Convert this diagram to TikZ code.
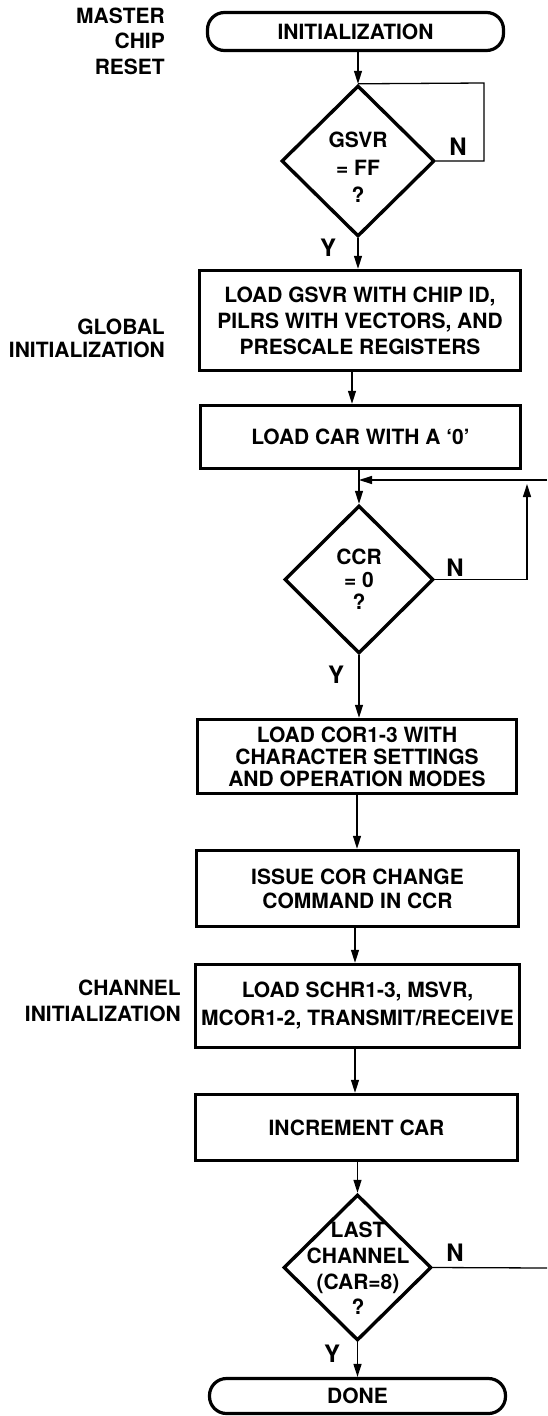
\documentclass[tikz,border=0pt]{standalone}
\usepackage{fontspec}
\setmainfont{TeX Gyre Heros}
\usetikzlibrary{arrows.meta,shapes.geometric}
\newcommand{\fsz}[1]{\fontsize{21}{#1}\selectfont\bfseries}
\begin{document}
\begin{tikzpicture}[x=1pt,y=-1pt,
  every node/.style={inner sep=0pt, text=black},
  box/.style={draw, line width=3.4pt, rectangle, align=center},
  term/.style={draw, line width=3.2pt, rounded corners=17pt, minimum width=296pt, align=center, font=\fsz{24}},
  dec/.style={draw, diamond, line width=3.4pt},
  dtxt/.style={align=center},
  lbl/.style={align=right, anchor=east},
  yn/.style={font=\fontsize{24}{24}\selectfont\bfseries},
  arr/.style={line width=1.3pt, -{Triangle[length=13pt,width=8pt]}},
  conn/.style={line width=1.3pt},
]
\useasboundingbox (0,0) rectangle (547,1416);

% main flow
\node[term, minimum height=38pt] (init) at (355.5,31.5) {INITIALIZATION};
\node[dec, minimum width=153pt, minimum height=151pt] (d1) at (358,161) {};
\node[dtxt, font=\fsz{27.5}] (t1) at (358,167.5) {GSVR\\= FF\\?};

\node[box, minimum width=321pt, minimum height=100pt, font=\fsz{26}] (b1) at (360,320.5)
  {LOAD GSVR WITH CHIP ID,\\PILRS WITH VECTORS, AND\\PRESCALE REGISTERS};
\node[box, minimum width=320pt, minimum height=63pt, font=\fsz{24}] (b2) at (360.5,437)
  {LOAD CAR WITH A `0'};

\node[dec, minimum width=149pt, minimum height=148pt] (d2) at (359,579.5) {};
\node[dtxt, font=\fsz{22.5}] (t2) at (359,579.5) {CCR\\= 0\\?};

\node[box, minimum width=319pt, minimum height=74pt, font=\fsz{22}] (b3) at (357,756.5)
  {LOAD COR1-3 WITH\\CHARACTER SETTINGS\\AND OPERATION MODES};
\node[box, minimum width=322pt, minimum height=76pt, font=\fsz{24}] (b4) at (357.5,888.5)
  {ISSUE COR CHANGE\\COMMAND IN CCR};
\node[box, minimum width=324pt, minimum height=83pt, font=\fsz{28}] (b5) at (357.5,1006)
  {LOAD SCHR1-3, MSVR,\\MCOR1-2, TRANSMIT/RECEIVE};
\node[box, minimum width=322pt, minimum height=66pt, font=\fsz{24}] (b6) at (356.5,1127.5)
  {INCREMENT CAR};

\node[dec, minimum width=148pt, minimum height=146pt] (d3) at (357.5,1267.5) {};
\node[dtxt, font=\fsz{25.7}] (t3) at (358,1268.5) {LAST\\CHANNEL\\(CAR=8)\\?};

\node[term, minimum height=35pt] (done) at (357.5,1396) {DONE};

% side labels
\node[lbl, font=\fsz{25.5}] (lm) at (165,41.2) {MASTER\\CHIP\\RESET};
\node[lbl, font=\fsz{23.5}] (lg) at (165,338.4) {GLOBAL\\INITIALIZATION};
\node[lbl, font=\fsz{26}] (lc) at (181,1001) {CHANNEL\\INITIALIZATION};

% Y / N labels
\node[yn] (n1) at (458,147) {N};
\node[yn] (y1) at (328,248) {Y};
\node[yn] (n2) at (455,568) {N};
\node[yn] (y2) at (336,675) {Y};
\node[yn] (n3) at (455,1253) {N};
\node[yn] (y3) at (332,1354) {Y};

% helper coordinates
\coordinate (r1) at (484,83);
\coordinate (e1) at (547,480);
\coordinate (r2) at (527,484);
\coordinate (e2) at (547,1268);

% connectors
\draw[arr] (init.south -| d1.north) -- (d1.north);
\draw[conn] (d1.east) -| (r1) -- (d1.north);
\draw[arr] (d1.south) -- (d1.south |- b1.north);
\draw[arr] ([xshift=-8pt]b1.south) -- ([xshift=-8pt]b1.south |- b2.north);
\draw[arr] (b2.south -| d2.north) -- (d2.north);
\draw[arr] (e1) -- (e1 -| d2.north);
\draw[arr] (d2.east) -| (r2);
\draw[arr] (d2.south) -- (d2.south |- b3.north);
\draw[arr] (b3.south) -- (b3.south |- b4.north);
\draw[arr] ([xshift=-2.5pt]b4.south) -- ([xshift=-2.5pt]b4.south |- b5.north);
\draw[arr] ([xshift=-2.5pt]b5.south) -- ([xshift=-2.5pt]b5.south |- b6.north);
\draw[arr] (b6.south -| d3.north) -- (d3.north);
\draw[conn] (d3.east) -- (e2);
\draw[arr] (d3.south) -- (d3.south |- done.north);
\end{tikzpicture}
\end{document}
